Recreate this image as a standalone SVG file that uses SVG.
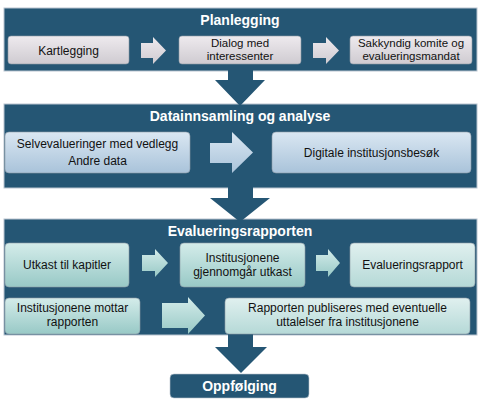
<svg xmlns="http://www.w3.org/2000/svg" width="480" height="408" viewBox="0 0 480 408">
<defs>
<linearGradient id="gGrey" x1="0" y1="0" x2="0" y2="1"><stop offset="0" stop-color="#eeeaee"/><stop offset="1" stop-color="#cfcbd1"/></linearGradient>
<linearGradient id="gBlue" x1="0" y1="0" x2="0" y2="1"><stop offset="0" stop-color="#dae7f2"/><stop offset="1" stop-color="#a9c3da"/></linearGradient>
<linearGradient id="gTeal" x1="0" y1="0" x2="0" y2="1"><stop offset="0" stop-color="#d4ecea"/><stop offset="1" stop-color="#98c9c6"/></linearGradient>
<linearGradient id="gTealL" x1="0" y1="0" x2="0" y2="1"><stop offset="0" stop-color="#e0f0ef"/><stop offset="1" stop-color="#b5d9d7"/></linearGradient>
</defs>
<style>
.panel{fill:#255674;stroke:#b9c4cf;stroke-width:1}
.dark{fill:#255674}
.box{stroke:#8d9aa6;stroke-width:0.6}
.t{font-family:"Liberation Sans",Arial,sans-serif;font-size:12px;fill:#111;text-anchor:middle}
.s{font-size:11.5px}
.h{font-family:"Liberation Sans",Arial,sans-serif;font-size:14px;font-weight:bold;fill:#fff;text-anchor:middle}
</style>
<rect width="480" height="408" fill="#fff"/>

<g id="panel-planlegging">
<rect class="panel" x="4" y="8" width="473" height="63"/>
<text class="h" x="240" y="25">Planlegging</text>
</g>
<g id="panel-datainnsamling">
<rect class="panel" x="4" y="104" width="473" height="84"/>
<text class="h" x="240" y="121">Datainnsamling og analyse</text>
</g>
<g id="panel-evalueringsrapporten">
<rect class="panel" x="4" y="219" width="473" height="116"/>
<text class="h" x="240" y="236">Evalueringsrapporten</text>
</g>

<g id="connectors">
<polygon class="dark" points="228,70 253,70 253,80 265,80 240,106 215,80 228,80"/>
<polygon class="dark" points="228,187 253,187 253,198 270,198 240,222 210,198 228,198"/>
<polygon class="dark" points="228,334 253,334 253,347 267,347 241,373 215,347 228,347"/>
<polygon fill="url(#gGrey)" points="141,43 153,43 153,37 166,50.5 153,64 153,58 141,58"/>
<polygon fill="url(#gGrey)" points="313,43 326,43 326,37 339,50.5 326,64 326,58 313,58"/>
<polygon fill="url(#gBlue)" points="210,143 232,143 232,132 253,152.5 232,173 232,163 210,163"/>
<polygon fill="url(#gTeal)" points="142,255 155,255 155,249 168,263 155,277 155,271 142,271"/>
<polygon fill="url(#gTeal)" points="316,255 328,255 328,249 340,263 328,277 328,271 316,271"/>
<polygon fill="url(#gTeal)" points="162,303 188,303 188,297 205,315.5 188,334 188,328 162,328"/>
</g>

<g id="node-kartlegging">
<rect class="box" x="8" y="36" width="121" height="28" rx="3" fill="url(#gGrey)"/>
<text class="t" x="68.5" y="54.5">Kartlegging</text>
</g>
<g id="node-dialog">
<rect class="box" x="179" y="36" width="122" height="28" rx="3" fill="url(#gGrey)"/>
<text class="t s" x="240" y="47">Dialog med</text>
<text class="t s" x="240" y="60">interessenter</text>
</g>
<g id="node-sakkyndig">
<rect class="box" x="350" y="36" width="122" height="28" rx="3" fill="url(#gGrey)"/>
<text class="t s" x="411" y="47">Sakkyndig komite og</text>
<text class="t s" x="411" y="60">evalueringsmandat</text>
</g>

<g id="node-selvevalueringer">
<rect class="box" x="5" y="132" width="185" height="41" rx="4" fill="url(#gBlue)"/>
<text class="t" x="97.5" y="148">Selvevalueringer med vedlegg</text>
<text class="t" x="97.5" y="165">Andre data</text>
</g>
<g id="node-digitale">
<rect class="box" x="272" y="132" width="199" height="41" rx="4" fill="url(#gBlue)"/>
<text class="t" x="371.5" y="157">Digitale institusjonsbesøk</text>
</g>

<g id="node-utkast">
<rect class="box" x="5" y="243" width="124" height="44" rx="4" fill="url(#gTeal)"/>
<text class="t" x="67" y="269">Utkast til kapitler</text>
</g>
<g id="node-gjennomgar">
<rect class="box" x="180" y="243" width="125" height="44" rx="4" fill="url(#gTeal)"/>
<text class="t" x="242.5" y="262">Institusjonene</text>
<text class="t" x="242.5" y="275.5">gjennomgår utkast</text>
</g>
<g id="node-evalueringsrapport">
<rect class="box" x="350" y="243" width="125" height="44" rx="4" fill="url(#gTealL)"/>
<text class="t" x="412.5" y="269">Evalueringsrapport</text>
</g>
<g id="node-mottar">
<rect class="box" x="5" y="298" width="135" height="36" rx="4" fill="url(#gTeal)"/>
<text class="t" x="72.5" y="312">Institusjonene mottar</text>
<text class="t" x="72.5" y="325.5">rapporten</text>
</g>
<g id="node-publiseres">
<rect class="box" x="225" y="298" width="245" height="36" rx="4" fill="url(#gTealL)"/>
<text class="t" x="347.5" y="312">Rapporten publiseres med eventuelle</text>
<text class="t" x="347.5" y="325.5">uttalelser fra institusjonene</text>
</g>

<g id="node-oppfolging">
<rect class="dark" x="170" y="374" width="139" height="24" rx="4" stroke="#b9c4cf" stroke-width="0.6"/>
<text class="h" x="239.5" y="391">Oppfølging</text>
</g>
</svg>
